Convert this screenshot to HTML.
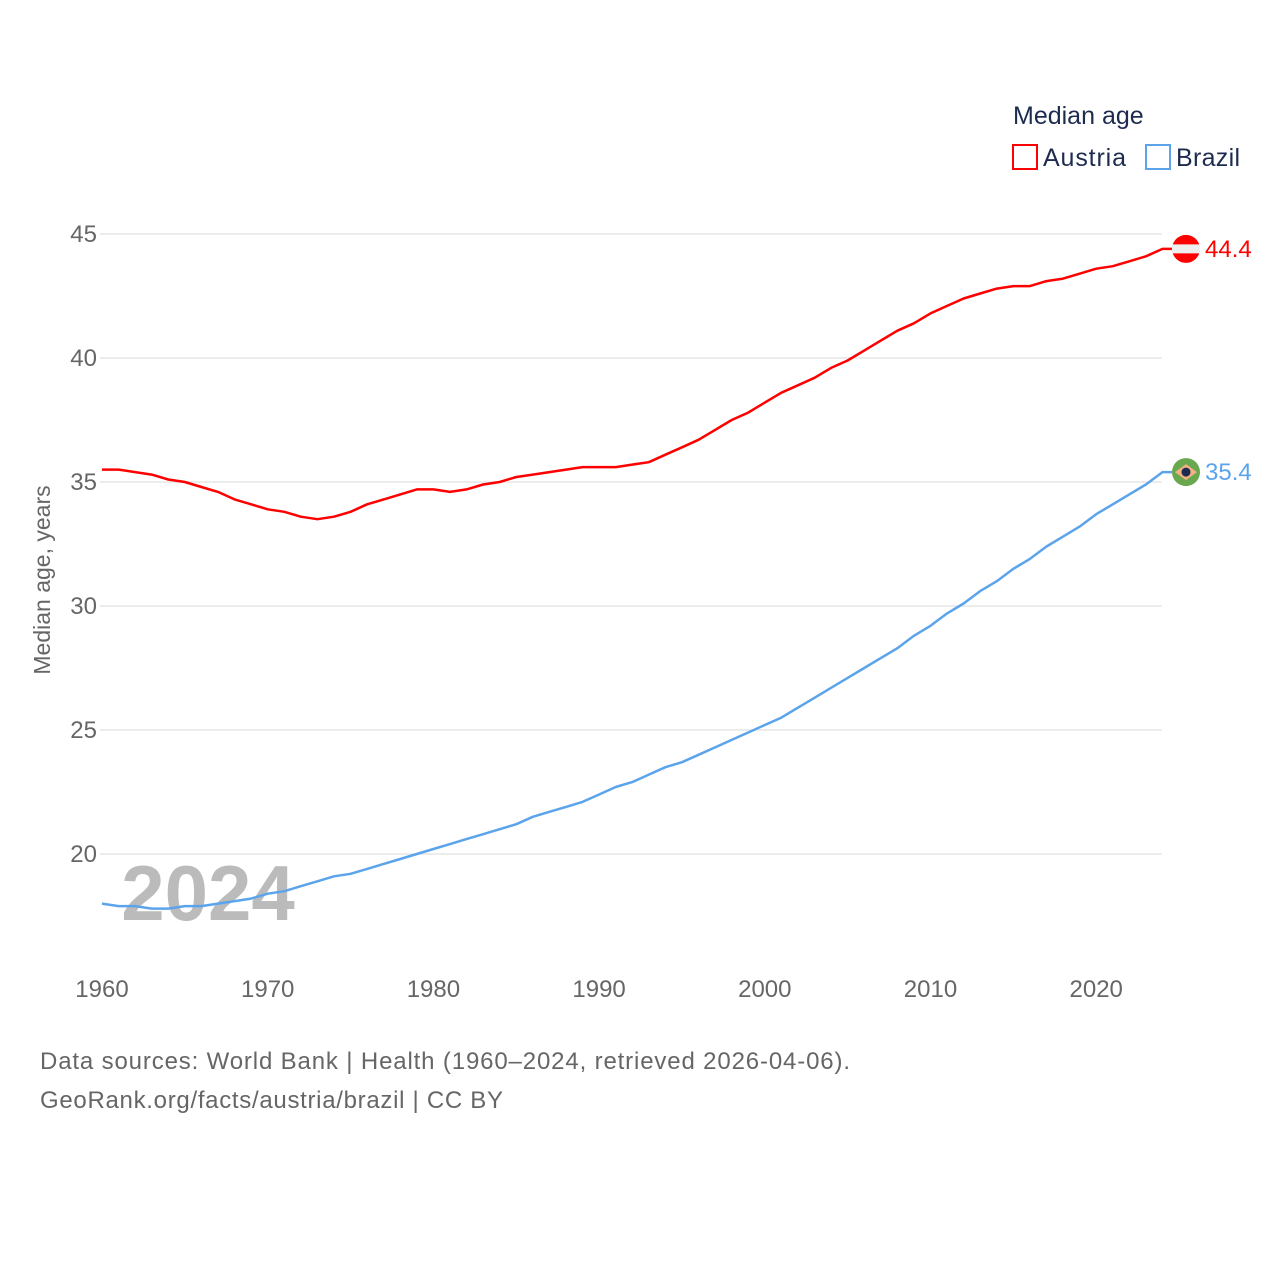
<!DOCTYPE html>
<html><head><meta charset="utf-8"><style>
html,body{margin:0;padding:0;background:#fff;}
svg text{font-family:"Liberation Sans",sans-serif;}
</style></head><body>
<svg id="chart" width="1280" height="1280" viewBox="0 0 1280 1280" xmlns="http://www.w3.org/2000/svg">
<g id="grid"></g>
<g id="yticks"></g>
<g id="xticks"></g>
<text x="208" y="920" font-size="78" font-weight="bold" fill="#bbb" text-anchor="middle">2024</text>
<text transform="translate(50,580) rotate(-90)" font-size="23" fill="#666" text-anchor="middle">Median age, years</text>
<g id="series"></g>
<g>
<text x="1013" y="124" font-size="25" fill="#1d2b4f">Median age</text>
<g>
<rect x="1013" y="145" width="24" height="24" fill="none" stroke="#f00" stroke-width="2"/>
<text x="1043" y="166" font-size="25" fill="#1d2b4f" textLength="83">Austria</text></g>
<g>
<rect x="1146" y="145" width="24" height="24" fill="none" stroke="#5ba4ec" stroke-width="2"/>
<text x="1176" y="166" font-size="25" fill="#1d2b4f" textLength="64">Brazil</text></g>
</g>
<text x="40" y="1069" font-size="24" fill="#666" textLength="810">Data sources: World Bank | Health (1960–2024, retrieved 2026-04-06).</text>
<text x="40" y="1108" font-size="24" fill="#666" textLength="463">GeoRank.org/facts/austria/brazil | CC BY</text>
</svg>
<script>
const years = [];
for (let y = 1960; y <= 2024; y++) years.push(y);
const austria = [35.5,35.5,35.4,35.3,35.1,35.0,34.8,34.6,34.3,34.1,33.9,33.8,33.6,33.5,33.6,33.8,34.1,34.3,34.5,34.7,34.7,34.6,34.7,34.9,35.0,35.2,35.3,35.4,35.5,35.6,35.6,35.6,35.7,35.8,36.1,36.4,36.7,37.1,37.5,37.8,38.2,38.6,38.9,39.2,39.6,39.9,40.3,40.7,41.1,41.4,41.8,42.1,42.4,42.6,42.8,42.9,42.9,43.1,43.2,43.4,43.6,43.7,43.9,44.1,44.4];
const brazil = [18.0,17.9,17.9,17.8,17.8,17.9,17.9,18.0,18.1,18.2,18.4,18.5,18.7,18.9,19.1,19.2,19.4,19.6,19.8,20.0,20.2,20.4,20.6,20.8,21.0,21.2,21.5,21.7,21.9,22.1,22.4,22.7,22.9,23.2,23.5,23.7,24.0,24.3,24.6,24.9,25.2,25.5,25.9,26.3,26.7,27.1,27.5,27.9,28.3,28.8,29.2,29.7,30.1,30.6,31.0,31.5,31.9,32.4,32.8,33.2,33.7,34.1,34.5,34.9,35.4];
const yTicks = [20,25,30,35,40,45];
const xTicks = [1960,1970,1980,1990,2000,2010,2020];
const NS = "http://www.w3.org/2000/svg";
const X = yr => 102 + (yr - 1960) * 16.57;
const Y = v => 234 + (45 - v) * 24.8;
function mk(tag, attrs, parent){const e=document.createElementNS(NS,tag);for(const k in attrs)e.setAttribute(k,attrs[k]);parent.appendChild(e);return e;}
const grid=document.getElementById('grid'), yt=document.getElementById('yticks'), xt=document.getElementById('xticks'), ser=document.getElementById('series');
yTicks.forEach(v=>{
  const l=mk('line',{x1:100,x2:1162,y1:Y(v),y2:Y(v),stroke:'#e6e6e6','stroke-width':1.5},grid);
  
  
  const t=mk('text',{x:97,y:Y(v)+8,'font-size':24,fill:'#666','text-anchor':'end'},yt);
  t.textContent=v;
  
  
});
xTicks.forEach(v=>{
  const t=mk('text',{x:X(v),y:997,'font-size':24,fill:'#666','text-anchor':'middle'},xt);
  t.textContent=v;
  
  
});
function drawLine(vals,color,name){
  const d=vals.map((v,i)=>(i?'L':'M')+X(years[i]).toFixed(1)+','+Y(v).toFixed(1)).join('')+'H1172';
  const p=mk('path',{d:d,fill:'none',stroke:color,'stroke-width':2.5,'stroke-linejoin':'round'},ser);
  
  
  const last=vals[vals.length-1], cy=Y(last);
  const g=mk('g',{},ser);
  
  
  if(name==='austria'){
    mk('circle',{cx:1186,cy:cy,r:14,fill:'#f00'},g);
    mk('rect',{x:1172,y:cy-4.5,width:28,height:9,fill:'#eee'},g);
  } else {
    mk('circle',{cx:1186,cy:cy,r:14,fill:'#6aa84f'},g);
    mk('polygon',{points:`1175,${cy} 1186,${cy-8} 1197,${cy} 1186,${cy+8}`,fill:'#f4b183'},g);
    mk('circle',{cx:1186,cy:cy,r:4.5,fill:'#1d2b4f'},g);
  }
  const t=mk('text',{x:1205,y:cy+8,'font-size':24,fill:color},ser);
  t.textContent=last.toFixed(1);
  
  
}
drawLine(austria,'#f00','austria');
drawLine(brazil,'#5ba4ec','brazil');
</script>
</body></html>
